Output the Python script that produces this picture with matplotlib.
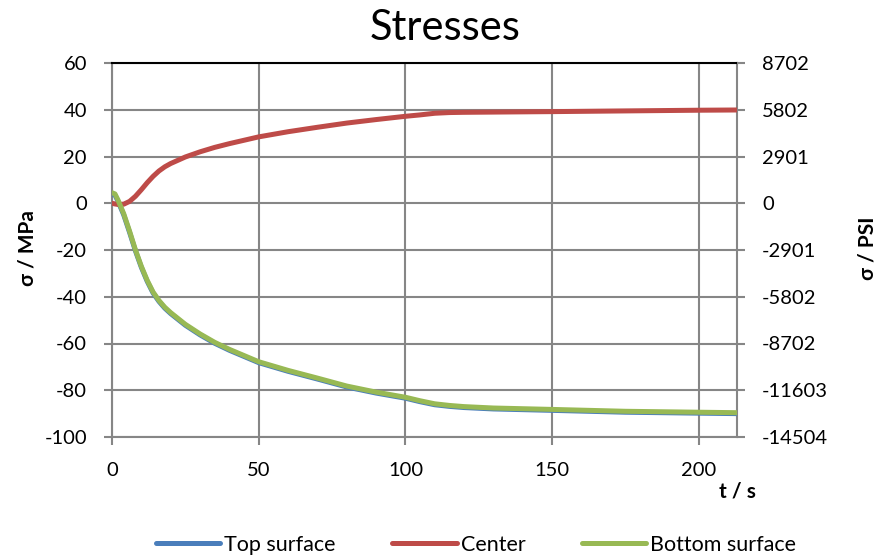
import numpy as np
import matplotlib
matplotlib.use("Agg")
import matplotlib.pyplot as plt

plt.rcParams['font.family'] = ['Lato', 'DejaVu Sans']
plt.rcParams['axes.unicode_minus'] = False

# time in seconds
t = [0, 1, 2, 4, 6, 8, 10, 12, 14, 16, 18, 20, 25, 30, 35, 40, 50, 60, 70,
     80, 90, 100, 105, 110, 115, 120, 130, 150, 175, 200, 213]

# stresses in MPa
top_surface = [4.0, 3.5, 1.0, -5.0, -12.5, -20.4, -27.4, -33.4, -38.4, -42.0,
               -44.9, -47.2, -52.2, -56.3, -59.9, -62.9, -68.2, -71.9, -75.2,
               -78.6, -81.2, -83.4, -84.9, -86.2, -86.9, -87.4, -88.0, -88.6,
               -89.4, -89.8, -90.0]
center = [0.0, -0.3, -0.5, -0.4, 0.8, 3.0, 5.8, 8.8, 11.5, 13.8, 15.6, 17.0,
          19.8, 22.0, 23.9, 25.5, 28.4, 30.6, 32.5, 34.3, 35.8, 37.2, 37.8,
          38.5, 38.8, 38.9, 39.0, 39.2, 39.5, 39.8, 39.9]
bottom_surface = [4.5, 4.0, 1.5, -4.5, -12.0, -20.0, -27.0, -33.0, -38.0, -41.6,
                  -44.5, -46.8, -51.8, -55.9, -59.5, -62.5, -67.8, -71.5, -74.8,
                  -78.2, -80.8, -83.0, -84.5, -85.8, -86.5, -87.0, -87.6, -88.2,
                  -89.0, -89.4, -89.6]

mpa_ticks = [60, 40, 20, 0, -20, -40, -60, -80, -100]
psi_labels = ['8702', '5802', '2901', '0', '-2901', '-5802', '-8702', '-11603', '-14504']
t_ticks = [0, 50, 100, 150, 200]

grid_col = '#868686'

fig = plt.figure(figsize=(8.84, 5.59), dpi=100)
ax = fig.add_axes([112/884, 1-437/559, (737-112)/884, (437-63)/559])

ax.plot(t, top_surface, color='#4A7EBB', lw=3.6, label='Top surface',
        solid_capstyle='round', zorder=3)
ax.plot(t, center, color='#BE4B48', lw=3.6, label='Center',
        solid_capstyle='round', zorder=3)
ax.plot(t, bottom_surface, color='#98B954', lw=3.6, label='Bottom surface',
        solid_capstyle='round', zorder=4)

ax.set_xlim(0, 213)
ax.set_ylim(-100, 60)
ax.set_xticks(t_ticks)
ax.set_yticks(mpa_ticks)
ax.grid(True, color=grid_col, lw=1.5)
ax.set_axisbelow(True)
for side in ['left', 'bottom', 'right']:
    ax.spines[side].set_color(grid_col)
    ax.spines[side].set_linewidth(1.5)
ax.spines['top'].set_color('black')
ax.spines['top'].set_linewidth(1.5)
ax.tick_params(axis='both', direction='out', length=6, width=1.5,
               color=grid_col, labelsize=14.5, pad=12)
ax.tick_params(axis='x', pad=12)

ax2 = ax.twinx()
ax2.set_ylim(-100, 60)
ax2.set_yticks(mpa_ticks)
ax2.set_yticklabels(psi_labels)
ax2.tick_params(axis='y', direction='out', length=6, width=1.5,
                color=grid_col, labelsize=14.5, pad=12)
for s in ax2.spines.values():
    s.set_visible(False)

fig.text(445/884, 1-28/559, 'Stresses', fontsize=30, ha='center', va='center')
fig.text(28/884, 1-248/559, 'σ / MPa', fontsize=15, fontweight='bold',
         rotation=90, ha='center', va='center')
fig.text(868/884, 1-248/559, 'σ / PSI', fontsize=15, fontweight='bold',
         rotation=90, ha='center', va='center')
fig.text(737/884, 1-492/559, 't / s', fontsize=15, fontweight='bold',
         ha='center', va='center')

fig.legend(loc='center', bbox_to_anchor=(476/884, 1-545/559), ncol=3,
           frameon=False, fontsize=15.5, handlelength=3.0, handletextpad=0.2,
           columnspacing=2.6)

fig.savefig('out.png', dpi=100)
